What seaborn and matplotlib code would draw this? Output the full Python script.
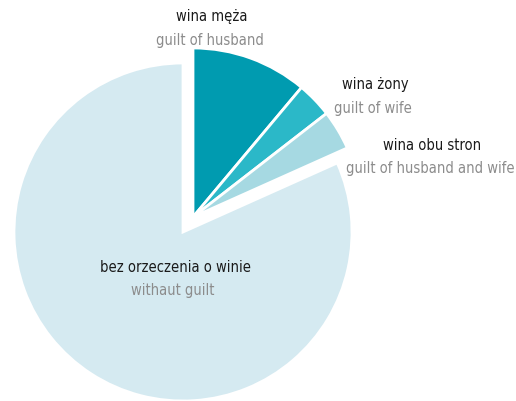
import matplotlib.pyplot as plt
import seaborn as sns
import numpy as np

sns.set_theme(style='white')
plt.rcParams['font.family'] = ['DejaVu Sans']
plt.rcParams['font.stretch'] = 'condensed'

# Dane: orzeczenia o winie przy rozwodach (%)
labels_pl = ['wina męża', 'wina żony', 'wina obu stron', 'bez orzeczenia o winie']
labels_en = ['guilt of husband', 'guilt of wife', 'guilt of husband and wife', 'withaut guilt']
shares = [11.1, 3.4, 3.8, 81.7]
colors = ['#009bb0', '#2bb8c8', '#a6d9e2', '#d5eaf1']

fig = plt.figure(figsize=(5.16, 4.01), dpi=100)
ax = fig.add_axes([0, 0, 1, 1])

center = (183, 169)
radius = 169
wedges, _ = ax.pie(shares, colors=colors, startangle=90, counterclock=False,
                   center=center, radius=radius,
                   wedgeprops=dict(edgecolor='white', linewidth=2))

# wysunięcie trzech mniejszych wycinków jako jednej grupy
shift = (10, 15)
for w in wedges[:3]:
    w.set_center((center[0] + shift[0], center[1] + shift[1]))

ax.set_xlim(0, 516)
ax.set_ylim(0, 401)
ax.set_aspect('equal')
ax.axis('off')

label_pos = [(212, 17), (375, 85), (432, 145), (175, 267)]
for (x, y), pl, en in zip(label_pos, labels_pl, labels_en):
    ax.text(x, 401 - y, pl, ha='center', va='center', fontsize=10.5,
            fontstretch='condensed', color='#1a1a1a')
    ax.text(x - 2, 401 - y - 23, en, ha='center', va='center', fontsize=10.5,
            fontstretch='condensed', color='#8c8c8c')

fig.savefig('out.png', dpi=100)
